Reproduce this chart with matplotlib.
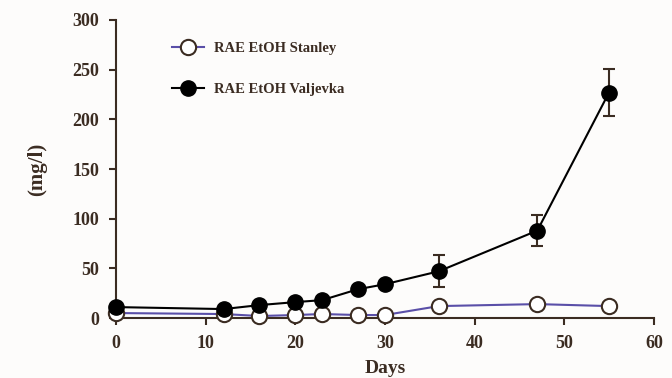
import matplotlib.pyplot as plt

# datos
dias = [0, 12, 16, 20, 23, 27, 30, 36, 47, 55]
stanley = [5, 4, 2, 3, 4, 3, 3, 12, 14, 12]
valjevka = [11, 9, 13, 16, 18, 29, 34, 47, 88, 227]
err_valjevka = [1, 1, 1, 1, 2, 2, 2, 16, 16, 24]

color_texto = '#3b2c22'
color_azul = '#5a4fa8'

plt.rcParams['font.family'] = ['Liberation Serif', 'DejaVu Serif']
plt.rcParams['font.weight'] = 'bold'
plt.rcParams['axes.labelweight'] = 'bold'

fig = plt.figure(figsize=(6.72, 3.78), dpi=100, facecolor='#fdfcfb')
ax = fig.add_axes([0.1726, 0.1587, 0.8004, 0.7884])
ax.set_facecolor('#fdfcfb')

# barras de error primero, sin marcadores
ax.errorbar(dias, valjevka, yerr=err_valjevka, fmt='none', ecolor=color_texto,
            elinewidth=1.5, capsize=4, capthick=1.5, zorder=2)
ax.plot(dias, stanley, color=color_azul, lw=1.5, marker='o', ms=11,
        mfc='white', mec=color_texto, mew=1.5, label='RAE EtOH Stanley', zorder=3)
ax.plot(dias, valjevka, color='black', lw=1.5, marker='o', ms=11,
        mfc='black', mec='black', label='RAE EtOH Valjevka', zorder=4)

ax.set_xlim(0, 60)
ax.set_ylim(0, 300)
ax.set_xticks(range(0, 61, 10))
ax.set_yticks(range(0, 301, 50))
ax.spines['top'].set_visible(False)
ax.spines['right'].set_visible(False)
for s in ['left', 'bottom']:
    ax.spines[s].set_color(color_texto)
    ax.spines[s].set_linewidth(1.5)
ax.tick_params(colors=color_texto, labelsize=13, width=1.5, length=5, pad=7)
ax.set_xlabel('Days', fontsize=14, color=color_texto, labelpad=6)
ax.set_ylabel('(mg/l)', fontsize=15, color=color_texto, labelpad=18)

leg = ax.legend(loc='upper left', bbox_to_anchor=(0.08, 0.97), frameon=False,
                fontsize=10.5, labelspacing=1.9, handlelength=2.2, handletextpad=0.7,
                labelcolor=color_texto)

for c in ax.lines:
    c.set_clip_on(False)
for c in ax.collections:
    c.set_clip_on(False)

fig.savefig('out.png', dpi=100, facecolor=fig.get_facecolor())
